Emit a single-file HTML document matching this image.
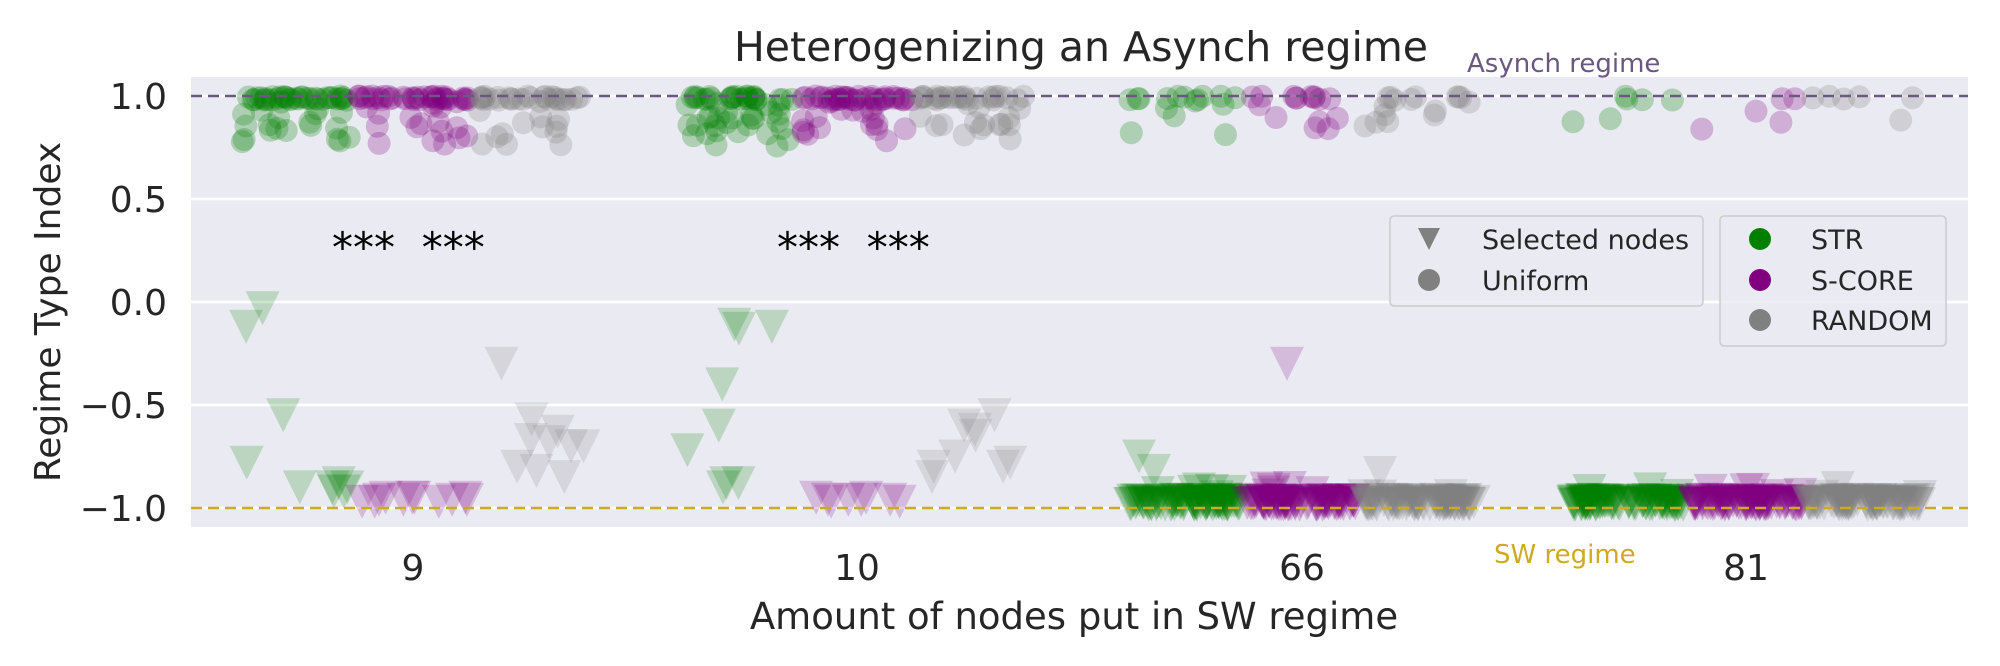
<!DOCTYPE html>
<html><head><meta charset="utf-8"><style>
html,body{margin:0;padding:0;background:#fff;}
svg{display:block;font-family:"DejaVu Sans","Liberation Sans",sans-serif;}
</style></head><body>
<svg id="s" width="2000" height="666" viewBox="0 0 2000 666" xmlns="http://www.w3.org/2000/svg">
<rect x="0" y="0" width="2000" height="666" fill="#fff"/>
<rect x="191" y="77" width="1777" height="450" fill="#eaeaf2"/>
<g stroke="#fff" stroke-width="2.5">
<line x1="191" x2="1968" y1="96" y2="96"/>
<line x1="191" x2="1968" y1="199" y2="199"/>
<line x1="191" x2="1968" y1="302" y2="302"/>
<line x1="191" x2="1968" y1="405" y2="405"/>
<line x1="191" x2="1968" y1="508" y2="508"/>
</g>
<g id="pts"></g>
<line x1="191" x2="1968" y1="96" y2="96" stroke="#6b5880" stroke-width="2.5" stroke-dasharray="11,6"/>
<line x1="191" x2="1968" y1="508" y2="508" stroke="#ccaa22" stroke-width="2.5" stroke-dasharray="11,6"/>
<g font-size="36" fill="#262626">
<text x="1081" y="61" text-anchor="middle" font-size="41">Heterogenizing an Asynch regime</text>
<text x="167" y="109" text-anchor="end">1.0</text>
<text x="167" y="212" text-anchor="end">0.5</text>
<text x="167" y="315" text-anchor="end">0.0</text>
<text x="167" y="418" text-anchor="end">−0.5</text>
<text x="167" y="521" text-anchor="end">−1.0</text>
<text x="413" y="580" text-anchor="middle">9</text>
<text x="857" y="580" text-anchor="middle">10</text>
<text x="1302" y="580" text-anchor="middle">66</text>
<text x="1746" y="580" text-anchor="middle">81</text>
<text x="1074" y="629" text-anchor="middle" font-size="37">Amount of nodes put in SW regime</text>
<text transform="translate(60,312) rotate(-90)" text-anchor="middle" font-size="36">Regime Type Index</text>
</g>
<text x="1467" y="72" font-size="26" fill="#6b5880">Asynch regime</text>
<text x="1494" y="563" font-size="26" fill="#ccaa22">SW regime</text>
<g font-size="42" fill="#000">
<text x="332" y="262" xml:space="preserve">***  ***</text>
<text x="777" y="262" xml:space="preserve">***  ***</text>
</g>
<g>
<rect x="1390" y="216" width="313" height="90" rx="4" fill="#eaeaf2" fill-opacity="0.8" stroke="#ccc" stroke-width="1.5"/>
<polygon points="1418,228 1440,228 1429,250" fill="#808080"/>
<circle cx="1429" cy="280" r="11" fill="#808080"/>
<text x="1482" y="249" font-size="27" fill="#262626">Selected nodes</text>
<text x="1482" y="290" font-size="27" fill="#262626">Uniform</text>
<rect x="1720" y="216" width="226" height="130" rx="4" fill="#eaeaf2" fill-opacity="0.8" stroke="#ccc" stroke-width="1.5"/>
<circle cx="1760" cy="239" r="11" fill="#008000"/>
<circle cx="1760" cy="280" r="11" fill="#800080"/>
<circle cx="1760" cy="320" r="11" fill="#808080"/>
<text x="1811" y="249" font-size="27" fill="#262626">STR</text>
<text x="1811" y="290" font-size="27" fill="#262626">S-CORE</text>
<text x="1811" y="330" font-size="27" fill="#262626">RANDOM</text>
</g>
</svg>
<script>
(function(){
var seed=7;function r(){seed=(seed*16807)%2147483647;return (seed-1)/2147483646;}
var g=document.getElementById('pts');var out='';
var cols=['#008000','#800080','#808080'];
function Y(v){return 302-v*206;}
function circ(x,v,c){out+='<circle cx="'+x.toFixed(1)+'" cy="'+Y(v).toFixed(1)+'" r="11.5" fill="'+c+'" fill-opacity="0.25"/>';}
function tri(x,v,c,o){var y=Y(v);out+='<polygon points="'+(x-17).toFixed(1)+','+(y-17).toFixed(1)+' '+(x+17).toFixed(1)+','+(y-17).toFixed(1)+' '+x.toFixed(1)+','+(y+17).toFixed(1)+'" fill="'+c+'" fill-opacity="'+o+'"/>';}
var centers=[413,857,1302,1746];
var ncirc=[[55,55,40],[55,55,40],[16,16,16],[6,5,6]];
for(var gi=0;gi<4;gi++){for(var h=0;h<3;h++){
 var cx=centers[gi]+(h-1)*118;
 for(var i=0;i<ncirc[gi][h];i++){
  var v=r()<0.55?1.0-r()*0.02:1.0-Math.pow(r(),1.5)*(gi<2?0.25:0.2);
  circ(cx+(r()-0.5)*110,v,cols[h]);
 }}}
var sp={
 0:[[-0.03,-0.12,-0.55,-0.78,-0.88,-0.9,-0.9,-0.92,-0.9,-0.92],[-0.96,-0.97,-0.95,-0.96,-0.95,-0.96,-0.97,-0.95,-0.96,-0.95,-0.97],[-0.3,-0.57,-0.63,-0.7,-0.8,-0.82,-0.85,-0.67,-0.7,-0.68]],
 1:[[-0.11,-0.13,-0.4,-0.6,-0.72,-0.88,-0.9,-0.88,-0.12],[-0.96,-0.97,-0.95,-0.96,-0.96,-0.97,-0.95,-0.96],[-0.55,-0.65,-0.75,-0.8,-0.6,-0.62,-0.8,-0.85,-0.78]]
};
for(var gi=0;gi<2;gi++){for(var h=0;h<3;h++){var cx=centers[gi]+(h-1)*118;
 sp[gi][h].forEach(function(v){tri(cx+(r()-0.5)*110,v,cols[h],0.2);});}}
for(var gi=2;gi<4;gi++){for(var h=0;h<3;h++){var cx=centers[gi]+(h-1)*118;
 for(var i=0;i<80;i++){var v=-0.96-r()*0.025;if(r()<0.06)v=-0.9-r()*0.05;
  tri(cx+(r()-0.5)*112,v,cols[h],0.22);}}}
tri(1302-118-45,-0.75,cols[0],0.2);tri(1302-118-30,-0.82,cols[0],0.2);
tri(1302-15,-0.3,cols[1],0.2);tri(1302+118-40,-0.83,cols[2],0.2);
g.innerHTML=out;
})();
</script>
</body></html>
